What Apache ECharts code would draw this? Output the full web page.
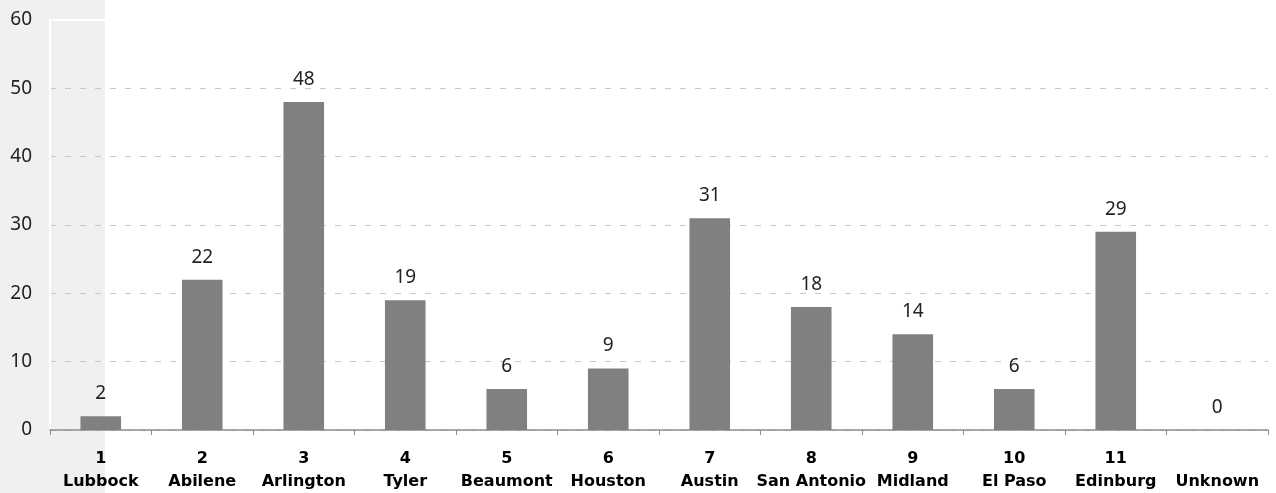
<!DOCTYPE html>
<html>
<head>
<meta charset="utf-8">
<script src="https://cdn.jsdelivr.net/npm/echarts@6/dist/echarts.min.js"></script>
<style>
	html, body { margin: 0; padding: 0; background: #fff; }
	#chart { width: 1276px; height: 493px; }
</style>
</head>
<body>
<div id="chart"></div>
<script>
// region numbers and names
var regionNums = ['1', '2', '3', '4', '5', '6', '7', '8', '9', '10', '11', ''];
var regionNames = ['Lubbock', 'Abilene', 'Arlington', 'Tyler', 'Beaumont', 'Houston', 'Austin', 'San Antonio', 'Midland', 'El Paso', 'Edinburg', 'Unknown'];
// counts per region
var counts = [2, 22, 48, 19, 6, 9, 31, 18, 14, 6, 29, 0];
var yTicks = [0, 10, 20, 30, 40, 50, 60];

var categories = regionNames.map(function (name, i) {
	return regionNums[i] ? regionNums[i] + '\n' + name : '\n' + name;
});

var myChart = echarts.init(document.getElementById('chart'));
var option = {
	animation: false,
	textStyle: { fontFamily: 'Noto Sans' },
	graphic: [
		{
			type: 'rect',
			z: -10,
			silent: true,
			shape: { x: 0, y: 0, width: 105, height: 493 },
			style: { fill: '#f0f0f0' }
		}
	],
	grid: {
		left: 50,
		right: 8,
		top: 20,
		bottom: 63,
		show: true,
		borderColor: '#fff',
		borderWidth: 2,
		backgroundColor: 'transparent'
	},
	xAxis: {
		type: 'category',
		data: categories,
		axisLine: { lineStyle: { color: '#8c8c8c', width: 1.5 } },
		axisTick: { show: true, length: 5, lineStyle: { color: '#8c8c8c' } },
		axisLabel: {
			interval: 0,
			margin: 17,
			color: '#000',
			fontFamily: 'DejaVu Sans',
			fontWeight: 'bold',
			fontSize: 16,
			lineHeight: 23
		}
	},
	yAxis: {
		type: 'value',
		min: yTicks[0],
		max: yTicks[yTicks.length - 1],
		interval: 10,
		axisLine: { show: true, lineStyle: { color: '#fff', width: 2 } },
		axisTick: { show: false },
		axisLabel: {
			margin: 18,
			color: '#222',
			fontSize: 19
		},
		splitLine: {
			lineStyle: {
				color: ['#c8c8c8', '#c8c8c8', '#c8c8c8', '#c8c8c8', '#c8c8c8', '#c8c8c8', '#fff'],
				type: [6, 9]
			}
		}
	},
	series: [
		{
			type: 'bar',
			data: counts,
			barWidth: '40%',
			itemStyle: { color: '#808080' },
			label: {
				show: true,
				position: 'top',
				distance: 13,
				color: '#222',
				fontSize: 19
			}
		}
	]
};
myChart.setOption(option);
</script>
</body>
</html>
